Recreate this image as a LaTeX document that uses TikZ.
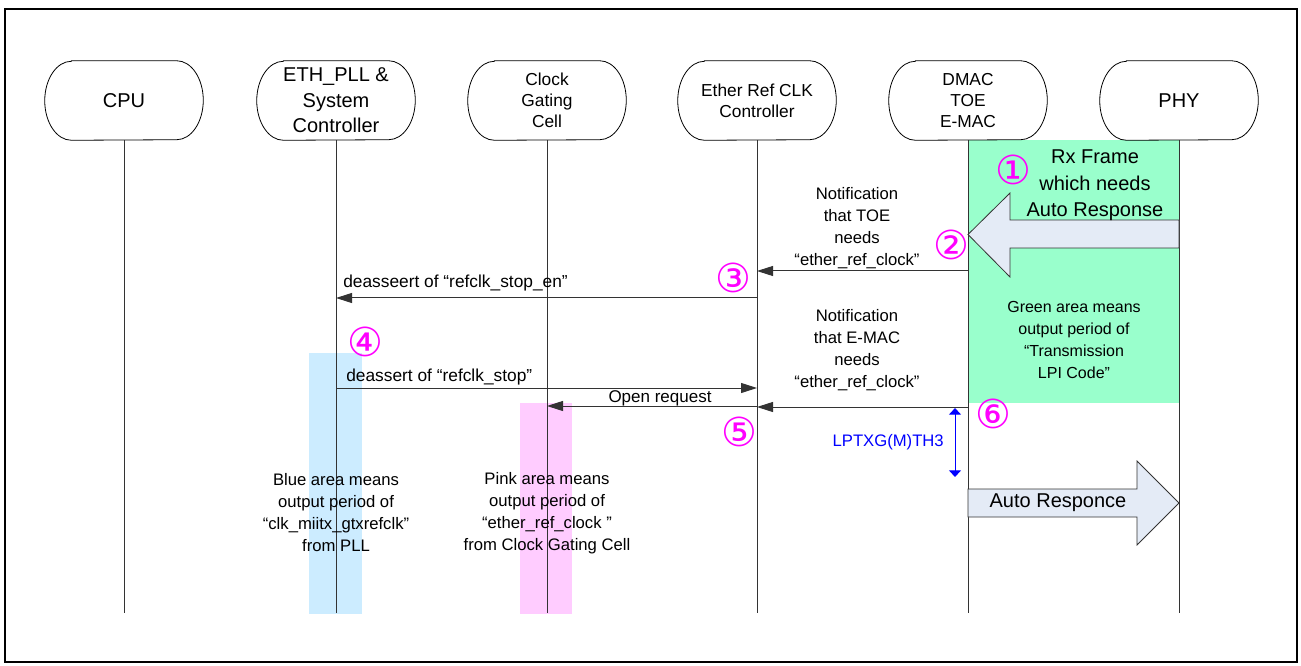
\documentclass[tikz,border=0pt]{standalone}
\usepackage{fontspec}
\setmainfont{Liberation Sans}
\newfontfamily\djv{DejaVu Sans}
\usetikzlibrary{arrows.meta}
\definecolor{greenarea}{HTML}{99FFCC}
\definecolor{bluearea}{HTML}{CCECFF}
\definecolor{pinkarea}{HTML}{FFCCFF}
\definecolor{arrowfill}{HTML}{E4EBF6}
\definecolor{mag}{HTML}{FF00FF}
\definecolor{lblue}{HTML}{0000FF}
\begin{document}
\begin{tikzpicture}[x=0.75pt,y=-0.75pt,
  hdr/.style={minimum width=118.5pt,minimum height=59.25pt,inner sep=0pt,align=center},
  hdrbig/.style={hdr,font=\fontsize{15}{19}\selectfont},
  hdrsmall/.style={hdr,font=\fontsize{13}{15.75}\selectfont},
  life/.style={draw=black!80,line width=0.75pt},
  msg/.style={draw=black!80,line width=0.75pt,-{Triangle[length=12pt,width=7.5pt]}},
  lbl/.style={font=\fontsize{12.5}{16.5}\selectfont,align=center,inner sep=0pt},
  num/.style={font=\djv\fontsize{30}{30}\selectfont,text=mag,inner sep=0pt},
  blk/.style={draw=black!80,line width=0.6pt,fill=arrowfill},
]
\useasboundingbox (0,0) rectangle (1301,666);
\draw[line width=1.5pt] (5,9) rectangle (1297,662);
% coloured areas
\fill[greenarea] (968,140) rectangle (1179,403);
\fill[bluearea] (309,353) rectangle (362,614);
\fill[pinkarea] (520,403) rectangle (572,614);
% headers
\node[hdrbig] (cpu) at (124,100.5) {CPU};
\node[hdrbig] (pll) at (336,100.5) {ETH\_PLL \&\\System\\Controller};
\node[hdrsmall] (cgc) at (547,100.5) {Clock\\Gating\\Cell};
\node[hdrsmall] (erc) at (757,100.5) {Ether Ref CLK\\Controller};
\node[hdrsmall] (dmac) at (968,100.5) {DMAC\\TOE\\E-MAC};
\node[hdrbig] (phy) at (1179,100.5) {PHY};
\foreach \n in {cpu,pll,cgc,erc,dmac,phy}{
  \draw[line width=0.6pt] ([xshift=20pt]\n.north west) -- ([xshift=-20pt]\n.north east)
    arc[start angle=90,end angle=-90,x radius=20pt,y radius=29.625pt]
    -- ([xshift=20pt]\n.south west)
    arc[start angle=270,end angle=90,x radius=20pt,y radius=29.625pt] -- cycle;
}
% lifelines
\coordinate (bot) at (0,613);
\foreach \n in {cpu,pll,cgc,erc,dmac,phy}{
  \draw[life] (\n.south) -- (\n |- bot);
}
% block arrows
\draw[blk] (1179,220) -- (1010,220) -- (1010,193) -- (968,234.5) -- (1010,277) -- (1010,248) -- (1179,248) -- cycle;
\draw[blk] (968,489) -- (1137,489) -- (1137,461) -- (1179,503) -- (1137,545) -- (1137,517) -- (968,517) -- cycle;
\node[font=\fontsize{15}{15}\selectfont,inner sep=0pt] (ar) at (1058,503) {Auto Responce};
% messages
\coordinate (y1) at (0,271);
\coordinate (y2) at (0,298);
\coordinate (y3) at (0,388);
\coordinate (y4) at (0,406);
\coordinate (y5) at (0,407);
\draw[msg] (dmac |- y1) -- (erc |- y1);
\draw[msg] (erc |- y2) -- (pll |- y2);
\draw[msg] (pll |- y3) -- (erc |- y3);
\draw[msg] (erc |- y4) -- (cgc |- y4);
\draw[msg] (dmac |- y5) -- (erc |- y5);
% LPTXG arrow
\coordinate (b1) at (955,408);
\coordinate (b2) at (955,477);
\draw[lblue,line width=0.75pt,{Triangle[length=5pt,width=9pt]}-{Triangle[length=5pt,width=9pt]}] (b1) -- (b2);
\node[anchor=east,text=lblue,font=\fontsize{12.5}{12.5}\selectfont,inner sep=0pt] (lp) at (944,442) {LPTXG(M)TH3};
% labels
\node[lbl,font=\fontsize{15}{20}\selectfont] (rx) at (1095,185.5) {Rx Frame\\which needs\\Auto Response};
\node[lbl] (n1) at (857,228) {Notification\\that TOE\\needs\\“ether\_ref\_clock”};
\node[lbl] (n2) at (857,350.5) {Notification\\that E-MAC\\needs\\“ether\_ref\_clock”};
\node[lbl,font=\fontsize{12}{16.5}\selectfont] (g) at (1074,339.5) {Green area means\\output period of\\“Transmission\\LPI Code”};
\node[lbl] (bl) at (336,513) {Blue area means\\output period of\\“clk\_miitx\_gtxrefclk”\\from PLL};
\node[lbl] (pk) at (547,513) {Pink area means\\output period of\\“ether\_ref\_clock ”\\from Clock Gating Cell};
\node[lbl,anchor=west,font=\fontsize{13}{13}\selectfont] (d1) at (343,283) {deasseert of “refclk\_stop\_en”};
\node[lbl,anchor=west,font=\fontsize{13}{13}\selectfont] (d2) at (346,377) {deassert of “refclk\_stop”};
\node[lbl,font=\fontsize{12.75}{12.75}\selectfont] (op) at (660,398) {Open request};
% circled numbers
\node[num] (c1) at (1013,170) {①};
\node[num] (c2) at (951,245) {②};
\node[num] (c3) at (733,278) {③};
\node[num] (c4) at (365,342) {④};
\node[num] (c5) at (739,432) {⑤};
\node[num] (c6) at (993,414) {⑥};
\end{tikzpicture}
\end{document}
